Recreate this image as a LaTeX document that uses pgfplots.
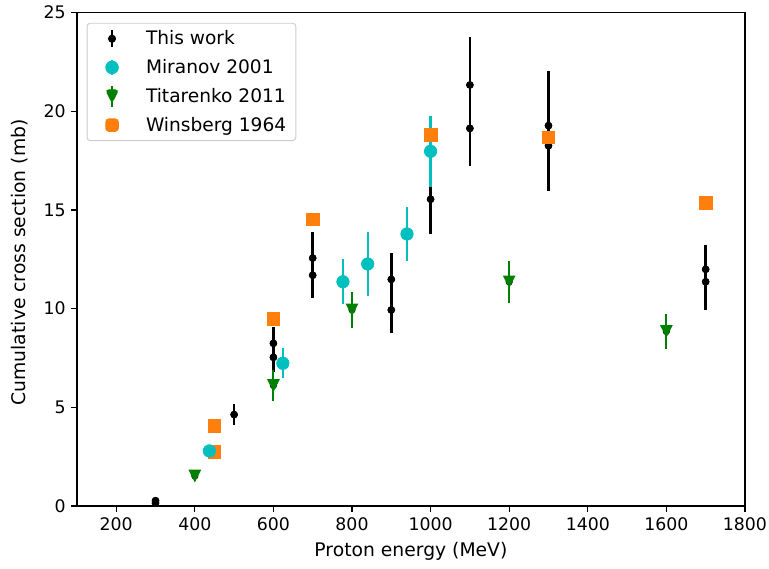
\documentclass[border=0pt]{standalone}
\usepackage{fontspec}
\setmainfont{DejaVu Sans}
\usepackage{pgfplots}
\usepackage{pgfplotstable}
\pgfplotsset{compat=1.18}

\definecolor{mplcyan}{rgb}{0,0.75,0.75}
\definecolor{mplgreen}{rgb}{0,0.5,0}
\definecolor{mplorange}{HTML}{FF7F0E}

% downward triangle, as wide as it is tall
\pgfdeclareplotmark{tridown}{%
  \pgfpathmoveto{\pgfqpoint{0pt}{-\pgfplotmarksize}}%
  \pgfpathlineto{\pgfqpoint{-\pgfplotmarksize}{\pgfplotmarksize}}%
  \pgfpathlineto{\pgfqpoint{\pgfplotmarksize}{\pgfplotmarksize}}%
  \pgfpathclose\pgfusepathqfill}

% energy (MeV), cross section (mb), uncertainty (mb)
\pgfplotstableread{
E     sigma  err
300   0.15   0.05
300   0.27   0.05
500   4.63   0.53
600   8.24   0.85
600   7.53   0.75
700   12.56  1.34
700   11.69  1.17
900   11.48  1.32
900   9.93   1.18
1000  15.54  1.77
1100  21.33  2.44
1100  19.13  1.91
1300  19.27  2.78
1300  18.25  2.28
1700  11.99  1.23
1700  11.36  1.43
}\thiswork

\pgfplotstableread{
E     sigma  err
437   2.79   0.10
624   7.23   0.76
777   11.36  1.15
840   12.26  1.60
940   13.78  1.35
1000  17.97  1.80
}\miranov

\pgfplotstableread{
E     sigma  err
400   1.52   0.10
600   6.10   0.80
800   9.93   0.90
1200  11.35  1.05
1600  8.84   0.90
}\titarenko

\pgfplotstableread{
E     sigma
450   4.07
450   2.75
600   9.47
700   14.52
1000  18.81
1300  18.68
1700  15.37
}\winsberg

\begin{document}
\begin{tikzpicture}
\begin{axis}[
  name=main, at={(0,0)}, anchor=south west,
  width=416.8pt, height=307.9pt, scale only axis,
  xmin=100, xmax=1800, ymin=0, ymax=25,
  xtick={200,400,...,1800}, ytick={0,5,...,25},
  tick align=outside, major tick length=3.5pt,
  xtick pos=left, ytick pos=left,
  axis line style={line width=0.8pt},
  every tick/.style={line width=0.8pt, black},
  tick label style={font=\fontsize{10.8}{13}\selectfont},
  /pgf/number format/assume math mode=true,
  /pgf/number format/1000 sep={},
  scaled ticks=false,
  xlabel={Proton energy (MeV)},
  ylabel={Cumulative cross section (mb)},
  label style={font=\fontsize{11.7}{14}\selectfont},
  xlabel style={at={([yshift=-28.1pt]axis description cs:0.5,0)}, anchor=center},
  ylabel style={at={([xshift=-35.6pt,yshift=-2pt]axis description cs:0,0.5)}, anchor=center, rotate=0},
  legend cell align=left,
  legend style={at={(axis description cs:0,1)}, anchor=north west,
    xshift=6pt, yshift=-6.4pt, draw=black!20, line width=0.6pt,
    rounded corners=2pt, fill=white, inner xsep=4pt, inner ysep=2.5pt,
    font=\fontsize{11.6}{14}\selectfont, row sep=3.6pt},
]

% error bars first, all beneath the markers
\addplot[forget plot, only marks, mark=none,
  error bars/.cd, y dir=both, y explicit, error mark=none,
  error bar style={line width=1.7pt, black}]
  table[x=E, y=sigma, y error=err] {\thiswork};
\addplot[forget plot, only marks, mark=none,
  error bars/.cd, y dir=both, y explicit, error mark=none,
  error bar style={line width=1.5pt, mplcyan}]
  table[x=E, y=sigma, y error=err] {\miranov};
\addplot[forget plot, only marks, mark=none,
  error bars/.cd, y dir=both, y explicit, error mark=none,
  error bar style={line width=1.3pt, mplgreen}]
  table[x=E, y=sigma, y error=err] {\titarenko};

% markers
\addplot[forget plot, only marks, mark=*, mark size=2.2pt, black]
  table[x=E, y=sigma] {\thiswork};
\addplot[forget plot, only marks, mark=square*, mark size=3.9pt,
  mplorange, mark options={draw=mplorange, fill=mplorange}]
  table[x=E, y=sigma] {\winsberg};
\addplot[forget plot, only marks, mark=*, mark size=3.9pt,
  mplcyan, mark options={draw=mplcyan, fill=mplcyan}]
  table[x=E, y=sigma] {\miranov};
\addplot[forget plot, only marks, mark=tridown, mark size=4pt,
  mplgreen, mark options={fill=mplgreen}]
  table[x=E, y=sigma] {\titarenko};

% legend
\addlegendimage{legend image code/.code={
  \path[draw=none, fill=none] (0pt,-5pt) rectangle (30.8pt,5pt);
  \draw[black, line width=1.7pt] (11.6pt,-5.4pt)--(11.6pt,5.4pt);
  \fill[black] (11.6pt,0pt) circle (2.2pt);}}
\addlegendentry{This work}
\addlegendimage{legend image code/.code={
  \path[draw=none, fill=none] (0pt,-5pt) rectangle (30.8pt,5pt);
  \draw[mplcyan, line width=1.5pt] (11.6pt,-4.7pt)--(11.6pt,4.7pt);
  \fill[mplcyan] (11.6pt,0pt) circle (3.9pt);}}
\addlegendentry{Miranov 2001}
\addlegendimage{legend image code/.code={
  \path[draw=none, fill=none] (0pt,-5pt) rectangle (30.8pt,5pt);
  \draw[mplgreen, line width=1.3pt] (11.6pt,-6.6pt)--(11.6pt,6.6pt);
  \fill[mplgreen] (11.6pt,-4pt)--(7.6pt,4pt)--(15.6pt,4pt)--cycle;}}
\addlegendentry{Titarenko 2011}
\addlegendimage{legend image code/.code={
  \path[draw=none, fill=none] (0pt,-5pt) rectangle (30.8pt,5pt);
  \fill[mplorange] (7.7pt,-3.9pt) rectangle (15.5pt,3.9pt);}}
\addlegendentry{Winsberg 1964}
\end{axis}
\pgfresetboundingbox
\path[use as bounding box]
  ([shift={(-48.0pt,-38.7pt)}]main.south west)
  rectangle ([shift={(15.0pt,7.8pt)}]main.north east);
\end{tikzpicture}
\end{document}
